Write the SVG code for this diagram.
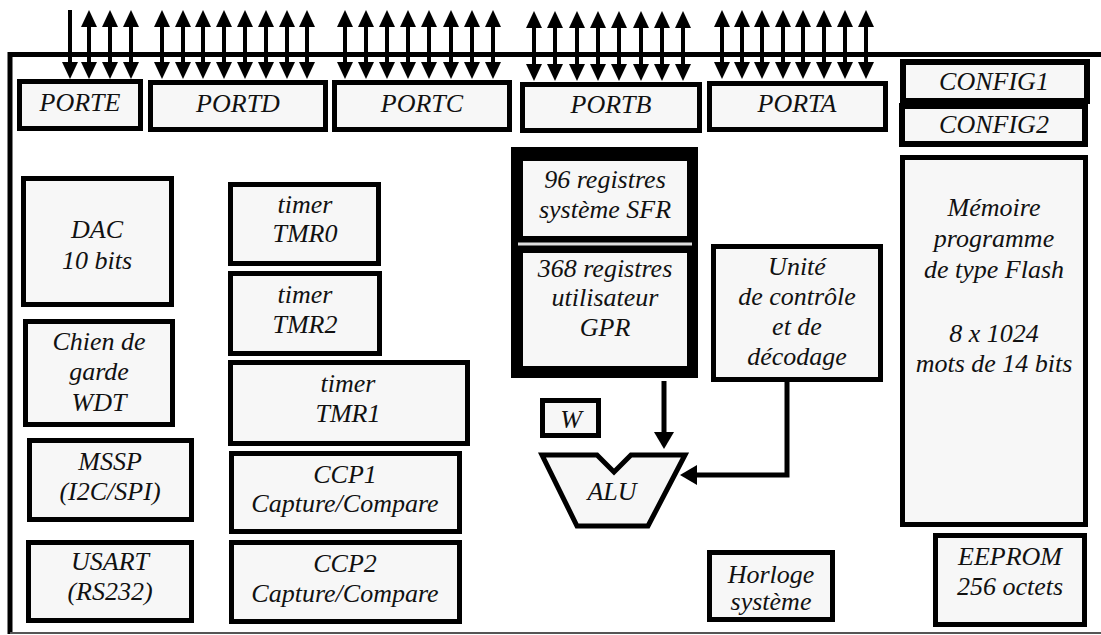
<svg xmlns="http://www.w3.org/2000/svg" width="1101" height="635" viewBox="0 0 1101 635" font-family="'Liberation Serif', 'DejaVu Serif', serif">
<style>
.b{fill:#f7f7f7;stroke:#000;stroke-width:5}
.b6{fill:#f7f7f7;stroke:#000;stroke-width:6}
text{font-family:'Liberation Serif','DejaVu Serif',serif;font-style:italic;font-size:26px;fill:#111;text-anchor:middle}
.io{stroke:#000;stroke-width:4;fill:none;marker-start:url(#hs);marker-end:url(#hs)}
.in{stroke:#000;stroke-width:4;fill:none;marker-end:url(#hs)}
.w{stroke:#000;stroke-width:5;fill:none;marker-end:url(#hb)}
</style>
<defs>
<marker id="hs" markerUnits="userSpaceOnUse" markerWidth="18" markerHeight="16" refX="0" refY="8" orient="auto-start-reverse" viewBox="0 0 18 16"><path d="M0,0 L17,8 L0,16 z" fill="#000"/></marker>
<marker id="hb" markerUnits="userSpaceOnUse" markerWidth="18" markerHeight="20" refX="0" refY="10" orient="auto" viewBox="0 0 18 20"><path d="M0,0 L17,10 L0,20 z" fill="#000"/></marker>
</defs>
<rect width="1101" height="635" fill="#fff"/>
<g id="frame">
<line x1="8" y1="54.5" x2="1101" y2="54.5" stroke="#000" stroke-width="5"/>
<line x1="10" y1="52" x2="10" y2="634" stroke="#000" stroke-width="5"/>
<line x1="10" y1="633" x2="1101" y2="633" stroke="#555" stroke-width="2"/>
</g>
<g id="connectors">
<line class="in" x1="70" y1="10" x2="70" y2="62"/>
<line class="io" x1="89" y1="27" x2="89" y2="62"/>
<line class="io" x1="110" y1="27" x2="110" y2="62"/>
<line class="io" x1="131" y1="27" x2="131" y2="62"/>
<line class="io" x1="162" y1="27" x2="162" y2="62"/>
<line class="io" x1="183" y1="27" x2="183" y2="62"/>
<line class="io" x1="203" y1="27" x2="203" y2="62"/>
<line class="io" x1="224" y1="27" x2="224" y2="62"/>
<line class="io" x1="245" y1="27" x2="245" y2="62"/>
<line class="io" x1="266" y1="27" x2="266" y2="62"/>
<line class="io" x1="287" y1="27" x2="287" y2="62"/>
<line class="io" x1="307" y1="27" x2="307" y2="62"/>
<line class="io" x1="345" y1="27" x2="345" y2="62"/>
<line class="io" x1="366" y1="27" x2="366" y2="62"/>
<line class="io" x1="387" y1="27" x2="387" y2="62"/>
<line class="io" x1="408" y1="27" x2="408" y2="62"/>
<line class="io" x1="429" y1="27" x2="429" y2="62"/>
<line class="io" x1="451" y1="27" x2="451" y2="62"/>
<line class="io" x1="472" y1="27" x2="472" y2="62"/>
<line class="io" x1="493" y1="27" x2="493" y2="62"/>
<line class="io" x1="534" y1="28" x2="534" y2="64"/>
<line class="io" x1="555" y1="28" x2="555" y2="64"/>
<line class="io" x1="577" y1="28" x2="577" y2="64"/>
<line class="io" x1="598" y1="28" x2="598" y2="64"/>
<line class="io" x1="619" y1="28" x2="619" y2="64"/>
<line class="io" x1="641" y1="28" x2="641" y2="64"/>
<line class="io" x1="662" y1="28" x2="662" y2="64"/>
<line class="io" x1="683" y1="28" x2="683" y2="64"/>
<line class="io" x1="722" y1="27" x2="722" y2="62"/>
<line class="io" x1="742" y1="27" x2="742" y2="62"/>
<line class="io" x1="762" y1="27" x2="762" y2="62"/>
<line class="io" x1="783" y1="27" x2="783" y2="62"/>
<line class="io" x1="803" y1="27" x2="803" y2="62"/>
<line class="io" x1="824" y1="27" x2="824" y2="62"/>
<line class="io" x1="845" y1="27" x2="845" y2="62"/>
<line class="io" x1="866" y1="27" x2="866" y2="62"/>
<line class="w" x1="664" y1="381" x2="664" y2="432"/>
<path class="w" d="M787,381 V475 H697"/>
</g>
<g id="porte"><rect class="b" x="19.5" y="81.5" width="121" height="47"/><text x="80" y="111">PORTE</text></g>
<g id="portd"><rect class="b" x="150.5" y="82.5" width="175" height="47"/><text x="238" y="112">PORTD</text></g>
<g id="portc"><rect class="b" x="334.5" y="82.5" width="175" height="47"/><text x="422" y="112">PORTC</text></g>
<g id="portb"><rect class="b" x="522.5" y="84.5" width="177" height="46"/><text x="611" y="113">PORTB</text></g>
<g id="porta"><rect class="b" x="709.5" y="83.5" width="176" height="46"/><text x="797" y="112">PORTA</text></g>
<g id="config1"><rect class="b6" x="903" y="62" width="184" height="39"/><text x="994" y="90">CONFIG1</text></g>
<g id="config2"><rect class="b6" x="902" y="106" width="183" height="38"/><text x="994" y="133">CONFIG2</text></g>
<g id="dac"><rect class="b" x="23.5" y="178.5" width="148" height="126"/><text x="97" y="238">DAC</text><text x="97" y="269">10 bits</text></g>
<g id="wdt"><rect class="b" x="25.5" y="321.5" width="147" height="103"/><text x="99" y="350">Chien de</text><text x="99" y="380">garde</text><text x="99" y="411">WDT</text></g>
<g id="mssp"><rect class="b" x="29.5" y="440.5" width="162" height="79"/><text x="110" y="470">MSSP</text><text x="110" y="500">(I2C/SPI)</text></g>
<g id="usart"><rect class="b" x="28.5" y="542.5" width="163" height="78"/><text x="110" y="570">USART</text><text x="110" y="600">(RS232)</text></g>
<g id="tmr0"><rect class="b" x="230.5" y="184.5" width="148" height="79"/><text x="305" y="213">timer</text><text x="305" y="242">TMR0</text></g>
<g id="tmr2"><rect class="b" x="230.5" y="273.5" width="149" height="80"/><text x="305" y="303">timer</text><text x="305" y="333">TMR2</text></g>
<g id="tmr1"><rect class="b" x="230.5" y="362.5" width="237" height="81"/><text x="348" y="392">timer</text><text x="348" y="422">TMR1</text></g>
<g id="ccp1"><rect class="b" x="231.5" y="453.5" width="228" height="78"/><text x="345" y="483">CCP1</text><text x="345" y="512">Capture/Compare</text></g>
<g id="ccp2"><rect class="b" x="231.5" y="542.5" width="228" height="79"/><text x="345" y="572">CCP2</text><text x="345" y="602">Capture/Compare</text></g>
<g id="registres">
<rect x="513.5" y="149.5" width="182" height="226" fill="#000" stroke="#000" stroke-width="5"/>
<line x1="518" y1="244" x2="692" y2="244" stroke="#ddd" stroke-width="3"/>
<g id="sfr"><rect class="b6" x="520" y="158" width="170" height="81"/><text x="605" y="188">96 registres</text><text x="605" y="218">système SFR</text></g>
<g id="gpr"><rect class="b6" x="520" y="250" width="170" height="119"/><text x="605" y="277">368 registres</text><text x="605" y="306">utilisateur</text><text x="605" y="336">GPR</text></g>
</g>
<g id="unite"><rect class="b" x="713.5" y="246.5" width="167" height="133"/><text x="797" y="275">Unité</text><text x="797" y="305">de contrôle</text><text x="797" y="335">et de</text><text x="797" y="365">décodage</text></g>
<g id="w"><rect class="b" x="542.5" y="400.5" width="56" height="35"/><text x="571" y="428">W</text></g>
<g id="alu"><path class="b" d="M542,455 L597,455 L614,472 L631,455 L685,455 L648,526 L577,526 Z"/><text x="612" y="500">ALU</text></g>
<g id="memoire"><rect class="b" x="902.5" y="157.5" width="183" height="367"/><text x="994" y="216">Mémoire</text><text x="994" y="247">programme</text><text x="994" y="278">de type Flash</text><text x="994" y="342">8 x 1024</text><text x="994" y="372">mots de 14 bits</text></g>
<g id="horloge"><rect class="b" x="709.5" y="552.5" width="123" height="67"/><text x="771" y="583">Horloge</text><text x="771" y="610">système</text></g>
<g id="eeprom"><rect class="b" x="935.5" y="535.5" width="149" height="89"/><text x="1010" y="565">EEPROM</text><text x="1010" y="595">256 octets</text></g>
</svg>
